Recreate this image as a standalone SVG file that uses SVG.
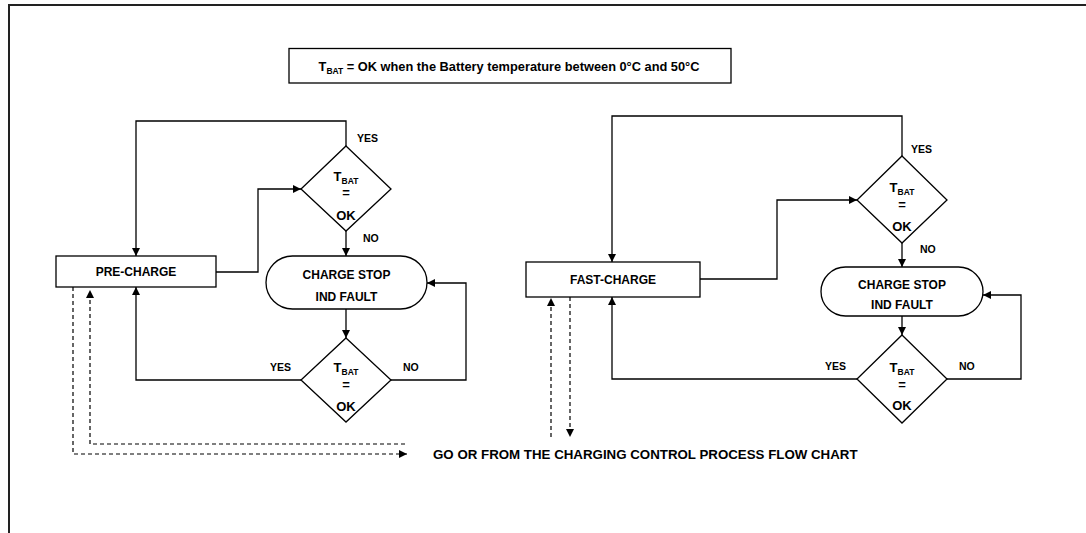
<svg xmlns="http://www.w3.org/2000/svg" width="1086" height="533" viewBox="0 0 1086 533">
<defs>
<marker id="ah" viewBox="0 0 10 10" refX="10" refY="5" markerWidth="8" markerHeight="8" markerUnits="userSpaceOnUse" orient="auto">
<path d="M0,0 L10,5 L0,10 z" fill="#000"/>
</marker>
<style>
.ln{fill:none;stroke:#000;stroke-width:1.3}
.dash{fill:none;stroke:#000;stroke-width:1.2;stroke-dasharray:4,3}
.shp{fill:#fff;stroke:#000;stroke-width:1.3}
.t{font-family:"Liberation Sans",Arial,sans-serif;font-weight:bold;font-size:12px;fill:#000}
.c{text-anchor:middle}
.d{font-size:13px}
.lb{font-family:"Liberation Sans",Arial,sans-serif;font-weight:bold;font-size:10.5px;fill:#000}
.sub{font-size:8.5px}
</style>
</defs>
<rect width="1086" height="533" fill="#fff"/>
<path d="M9,533 V5 H1086" fill="none" stroke="#222" stroke-width="2"/>

<g id="note">
<rect x="289" y="48.5" width="442" height="34.5" class="shp"/>
<text x="509" y="70.5" class="t c" style="font-size:12.8px">T<tspan class="sub" dy="3">BAT</tspan><tspan dy="-3"> = OK when the Battery temperature between 0°C and 50°C</tspan></text>
</g>

<g id="connectors">
<path d="M346,146 V121 H136 V256" class="ln" marker-end="url(#ah)"/>
<path d="M216,272 H258 V189 H301" class="ln" marker-end="url(#ah)"/>
<path d="M346,231 V256" class="ln" marker-end="url(#ah)"/>
<path d="M346,309 V338" class="ln" marker-end="url(#ah)"/>
<path d="M391,380 H466 V283 H427" class="ln" marker-end="url(#ah)"/>
<path d="M301,380 H136 V287" class="ln" marker-end="url(#ah)"/>
<path d="M73,287 V454 H407" class="dash" marker-end="url(#ah)"/>
<path d="M405,444 H90 V290" class="dash" marker-end="url(#ah)"/>

<path d="M902,156 V116 H612 V262" class="ln" marker-end="url(#ah)"/>
<path d="M700,279 H777 V200 H857" class="ln" marker-end="url(#ah)"/>
<path d="M902,243 V267" class="ln" marker-end="url(#ah)"/>
<path d="M902,316 V335" class="ln" marker-end="url(#ah)"/>
<path d="M947,379 H1021 V295 H983" class="ln" marker-end="url(#ah)"/>
<path d="M857,379 H612 V297" class="ln" marker-end="url(#ah)"/>
<path d="M551,437 V298" class="dash" marker-end="url(#ah)"/>
<path d="M570,297 V437" class="dash" marker-end="url(#ah)"/>

<text x="357" y="142" class="lb">YES</text>
<text x="363" y="242" class="lb">NO</text>
<text x="270" y="371" class="lb">YES</text>
<text x="403" y="371" class="lb">NO</text>
<text x="911" y="153" class="lb">YES</text>
<text x="920" y="253" class="lb">NO</text>
<text x="825" y="370" class="lb">YES</text>
<text x="959" y="370" class="lb">NO</text>
</g>

<g id="pre-charge">
<rect x="56" y="256" width="160" height="31" class="shp"/>
<text x="136" y="276" class="t c">PRE-CHARGE</text>
</g>
<g id="tbat1">
<path d="M346,146 L391,189 L346,231 L301,189 z" class="shp"/>
<text x="346" y="181" class="t c d">T<tspan class="sub" dy="3">BAT</tspan></text>
<text x="346" y="197" class="t c d">=</text>
<text x="346" y="220" class="t c d">OK</text>
</g>
<g id="stop1">
<rect x="266" y="256" width="161" height="53" rx="26.5" class="shp"/>
<text x="346.5" y="278.5" class="t c">CHARGE STOP</text>
<text x="346.5" y="301" class="t c">IND FAULT</text>
</g>
<g id="tbat2">
<path d="M346,338 L391,380 L346,422 L301,380 z" class="shp"/>
<text x="346" y="372" class="t c d">T<tspan class="sub" dy="3">BAT</tspan></text>
<text x="346" y="389" class="t c d">=</text>
<text x="346" y="410.5" class="t c d">OK</text>
</g>

<g id="fast-charge">
<rect x="526" y="262" width="174" height="35" class="shp"/>
<text x="613" y="284" class="t c">FAST-CHARGE</text>
</g>
<g id="tbat3">
<path d="M902,156 L947,200 L902,243 L857,200 z" class="shp"/>
<text x="902" y="192" class="t c d">T<tspan class="sub" dy="3">BAT</tspan></text>
<text x="902" y="209" class="t c d">=</text>
<text x="902" y="230.5" class="t c d">OK</text>
</g>
<g id="stop2">
<rect x="821" y="267" width="162" height="49" rx="24.5" class="shp"/>
<text x="902" y="289" class="t c">CHARGE STOP</text>
<text x="902" y="308.5" class="t c">IND FAULT</text>
</g>
<g id="tbat4">
<path d="M902,335 L947,379 L902,423 L857,379 z" class="shp"/>
<text x="902" y="371.5" class="t c d">T<tspan class="sub" dy="3">BAT</tspan></text>
<text x="902" y="388.5" class="t c d">=</text>
<text x="902" y="409.5" class="t c d">OK</text>
</g>

<g id="goto">
<text x="433" y="458.5" class="t" style="font-size:13.3px">GO OR FROM THE CHARGING CONTROL PROCESS FLOW CHART</text>
</g>
</svg>
